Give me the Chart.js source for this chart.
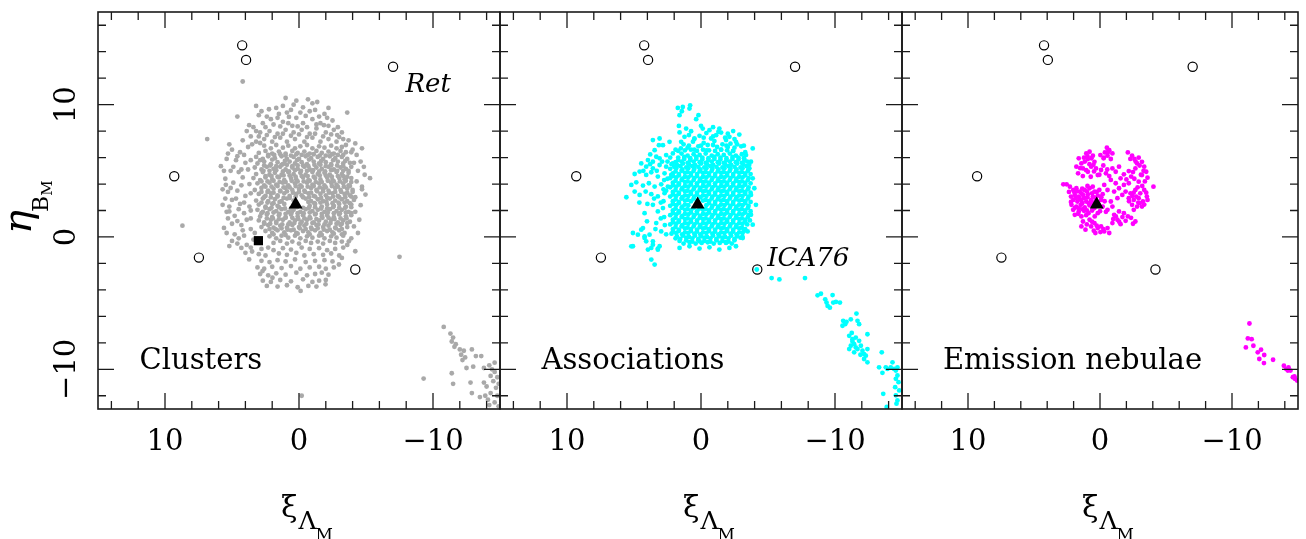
<!DOCTYPE html>
<html><head><meta charset="utf-8">
<script src="https://cdn.jsdelivr.net/npm/chart.js@4.4.1/dist/chart.umd.min.js"></script>
<style>
html,body{margin:0;padding:0;background:#fff;}
#wrap{position:relative;width:1306px;height:539px;overflow:hidden;}
canvas{position:absolute;left:0;top:0;}
</style></head><body>
<div id="wrap">
<canvas id="c1" width="1306" height="539"></canvas>
<canvas id="c2" width="1306" height="539"></canvas>
<canvas id="c3" width="1306" height="539"></canvas>
</div>
<script>
// ---------- axis definitions ----------
const xLimits = [-15, 15];           // axis is reversed (east to the left)
const yLimits = [-13, 17];
const xTickLabels = [10, 0, -10];
const yTickLabels = [10, 0, -10];
const xMinorTicks = [14, 12, 10, 8, 6, 4, 2, 0, -2, -4, -6, -8, -10, -12, -14];
const yMinorTicks = [16, 14, 12, 10, 8, 6, 4, 2, 0, -2, -4, -6, -8, -10, -12];
const panelNames = ['Clusters', 'Associations', 'Emission nebulae'];

// ---------- reference markers (same in all panels) ----------
const refObjects = [4.24,14.48, 3.95,13.38, 9.31,4.59, 7.47,-1.56, -4.2,-2.46, -7.02,12.86];
const centerMark = [0.25, 2.45];
const squareMark = [3.03, -0.28];

// ---------- Clusters (grey) ----------
const clustersCore = [
2.6,6.9, 2.1,6.7, 1.7,6.95, 1.2,6.75, 0.8,6.9, 0.3,6.7, -0.1,6.85, -0.6,6.95, -1.0,6.7, -1.5,6.85, -1.9,6.75, -2.4,6.9, -2.8,6.7, -3.2,6.8,
3.0,6.35, 2.5,6.5, 2.0,6.3, 1.5,6.45, 1.0,6.3, 0.5,6.5, 0.1,6.35, -0.4,6.45, -0.8,6.3, -1.3,6.5, -1.7,6.35, -2.2,6.45, -2.6,6.3, -3.1,6.5, -3.5,6.4,
3.2,6.05, 2.7,5.9, 2.3,6.1, 1.8,5.95, 1.3,6.1, 0.9,5.9, 0.4,6.05, 0.0,5.9, -0.5,6.1, -0.9,5.95, -1.4,6.05, -1.8,5.9, -2.3,6.1, -2.7,5.95, -3.2,6.05, -3.6,5.9,
3.1,5.55, 2.6,5.7, 2.1,5.5, 1.6,5.65, 1.2,5.5, 0.7,5.7, 0.3,5.55, -0.2,5.65, -0.6,5.5, -1.1,5.7, -1.5,5.55, -2.0,5.65, -2.4,5.5, -2.9,5.7, -3.3,5.55, -3.8,5.6,
3.3,5.25, 2.8,5.1, 2.4,5.3, 1.9,5.15, 1.4,5.3, 1.0,5.1, 0.5,5.25, 0.1,5.15, -0.4,5.3, -0.8,5.1, -1.3,5.25, -1.7,5.15, -2.2,5.3, -2.6,5.1, -3.1,5.25, -3.5,5.15, -3.9,5.3,
3.2,4.75, 2.7,4.9, 2.2,4.7, 1.8,4.85, 1.3,4.7, 0.8,4.9, 0.4,4.75, -0.1,4.85, -0.5,4.7, -1.0,4.9, -1.4,4.75, -1.9,4.85, -2.3,4.7, -2.8,4.9, -3.2,4.75, -3.7,4.85,
3.4,4.45, 2.9,4.3, 2.5,4.5, 2.0,4.35, 1.5,4.5, 1.1,4.3, 0.6,4.45, 0.2,4.35, -0.3,4.5, -0.7,4.3, -1.2,4.45, -1.6,4.35, -2.1,4.5, -2.5,4.3, -3.0,4.45, -3.4,4.35, -3.9,4.45,
3.1,4.05, 2.6,3.9, 2.2,4.1, 1.7,3.95, 1.2,4.1, 0.8,3.9, 0.3,4.05, -0.1,3.9, -0.6,4.1, -1.0,3.95, -1.5,4.05, -1.9,3.9, -2.4,4.1, -2.8,3.95, -3.3,4.05, -3.7,3.9,
3.3,3.55, 2.8,3.7, 2.3,3.5, 1.9,3.65, 1.4,3.5, 1.0,3.7, 0.5,3.55, 0.0,3.65, -0.4,3.5, -0.9,3.7, -1.3,3.55, -1.8,3.65, -2.2,3.5, -2.7,3.7, -3.1,3.55, -3.6,3.65, -4.0,3.55,
3.0,3.25, 2.5,3.1, 2.1,3.3, 1.6,3.15, 1.1,3.3, 0.7,3.1, 0.2,3.25, -0.2,3.15, -0.7,3.3, -1.1,3.1, -1.6,3.25, -2.0,3.15, -2.5,3.3, -2.9,3.1, -3.4,3.25, -3.8,3.15,
3.2,2.75, 2.7,2.9, 2.3,2.7, 1.8,2.85, 1.3,2.7, 0.9,2.9, 0.4,2.75, -0.5,2.9, -0.9,2.7, -1.4,2.85, -1.8,2.7, -2.3,2.9, -2.7,2.75, -3.2,2.85, -3.6,2.7, -4.1,2.8,
3.0,2.45, 2.5,2.3, 2.0,2.5, 1.6,2.35, 1.1,2.5, -0.8,2.35, -1.2,2.5, -1.7,2.3, -2.1,2.45, -2.6,2.35, -3.0,2.5, -3.5,2.3, -3.9,2.45,
3.1,2.05, 2.7,1.9, 2.2,2.1, 1.7,1.95, 1.3,2.1, 0.8,1.9, 0.4,2.05, -0.1,1.9, -0.5,2.1, -1.0,1.95, -1.4,2.05, -1.9,1.9, -2.3,2.1, -2.8,1.95, -3.2,2.05, -3.7,1.9,
2.9,1.55, 2.4,1.7, 2.0,1.5, 1.5,1.65, 1.0,1.5, 0.6,1.7, 0.1,1.55, -0.3,1.65, -0.8,1.5, -1.2,1.7, -1.7,1.55, -2.1,1.65, -2.6,1.5, -3.0,1.7, -3.5,1.55, -3.9,1.65,
3.0,1.25, 2.6,1.1, 2.1,1.3, 1.7,1.15, 1.2,1.3, 0.7,1.1, 0.3,1.25, -0.2,1.15, -0.6,1.3, -1.1,1.1, -1.5,1.25, -2.0,1.15, -2.4,1.3, -2.9,1.1, -3.3,1.25, -3.8,1.15,
2.8,0.75, 2.3,0.9, 1.9,0.7, 1.4,0.85, 0.9,0.7, 0.5,0.9, 0.0,0.75, -0.4,0.85, -0.9,0.7, -1.3,0.9, -1.8,0.75, -2.2,0.85, -2.7,0.7, -3.1,0.9, -3.6,0.75,
2.5,0.45, 2.0,0.3, 1.6,0.5, 1.1,0.35, 0.6,0.5, 0.2,0.3, -0.3,0.45, -0.7,0.35, -1.2,0.5, -1.6,0.3, -2.1,0.45, -2.5,0.35, -3.0,0.5, -3.4,0.3,
2.2,0.05, 1.7,-0.1, 1.3,0.1, 0.8,-0.05, 0.3,0.1, -0.1,-0.1, -0.6,0.05, -1.0,-0.05, -1.5,0.1, -1.9,-0.1, -2.4,0.05, -2.8,-0.05, -3.3,0.1,
1.9,-0.45, 1.4,-0.3, 0.9,-0.5, 0.5,-0.35, 0.0,-0.5, -0.5,-0.3, -0.9,-0.45, -1.4,-0.35, -1.8,-0.5, -2.3,-0.3, -2.7,-0.45, -3.2,-0.35
];
const clustersInner = [
2.3,6.2, 1.4,6.25, 0.6,6.15, -0.2,6.2, -1.1,6.25, -2.0,6.15, -2.9,6.2,
2.6,5.4, 1.7,5.35, 0.9,5.45, 0.1,5.4, -0.7,5.35, -1.6,5.45, -2.4,5.4, -3.3,5.35,
2.2,5.0, 1.2,4.95, 0.3,5.05, -0.6,5.0, -1.5,4.95, -2.4,5.05, -3.3,5.0,
2.5,4.6, 1.6,4.55, 0.7,4.65, -0.2,4.6, -1.1,4.55, -2.0,4.65, -2.9,4.6, -3.6,4.55,
2.8,4.2, 1.9,4.25, 1.0,4.15, 0.1,4.2, -0.8,4.25, -1.7,4.15, -2.6,4.2, -3.5,4.25,
2.5,3.8, 1.6,3.85, 0.7,3.75, -0.2,3.8, -1.1,3.85, -2.0,3.75, -2.9,3.8, -3.8,3.85,
2.8,3.4, 1.9,3.35, 0.9,3.45, 0.0,3.4, -0.9,3.35, -1.8,3.45, -2.7,3.4, -3.6,3.35,
2.6,3.0, 1.6,3.05, 0.7,2.95, -0.3,3.0, -1.2,3.05, -2.1,2.95, -3.0,3.0, -3.9,3.05,
2.8,2.6, 1.9,2.55, -0.7,2.65, -1.6,2.6, -2.5,2.55, -3.4,2.6,
2.5,2.2, 1.5,2.25, 0.6,2.15, -0.3,2.2, -1.2,2.25, -2.1,2.15, -3.0,2.2, -3.9,2.25,
2.8,1.8, 1.9,1.85, 1.0,1.75, 0.1,1.8, -0.8,1.85, -1.7,1.75, -2.6,1.8, -3.5,1.85,
2.4,1.4, 1.5,1.35, 0.5,1.45, -0.4,1.4, -1.3,1.35, -2.2,1.45, -3.1,1.4,
2.6,1.0, 1.7,1.05, 0.8,0.95, -0.1,1.0, -1.0,1.05, -1.9,0.95, -2.8,1.0, -3.6,1.05,
2.2,0.6, 1.3,0.65, 0.4,0.55, -0.5,0.6, -1.4,0.65, -2.3,0.55, -3.2,0.6
];
const clustersDense = [
1.85,6.2, 1.0,6.15, 0.2,6.25, -0.65,6.2, -1.55,6.15, -2.45,6.25, -3.3,6.2,
2.9,5.8, 2.0,5.85, 1.05,5.75, 0.15,5.8, -0.75,5.85, -1.65,5.75, -2.55,5.8, -3.45,5.75,
2.15,5.4, 1.3,5.45, 0.5,5.35, -0.3,5.4, -1.15,5.45, -2.0,5.35, -2.85,5.4,
2.65,5.0, 1.7,5.05, 0.75,4.95, -0.15,5.0, -1.05,5.05, -1.95,4.95, -2.85,5.0, -3.7,5.0,
2.05,4.6, 1.15,4.65, 0.25,4.55, -0.65,4.6, -1.55,4.65, -2.45,4.55, -3.3,4.6,
2.35,4.2, 1.45,4.15, 0.55,4.25, -0.35,4.2, -1.25,4.15, -2.15,4.25, -3.05,4.2, -3.9,4.15,
2.05,3.8, 1.15,3.75, 0.25,3.85, -0.65,3.8, -1.55,3.75, -2.45,3.85, -3.35,3.8,
2.35,3.4, 1.4,3.45, 0.45,3.35, -0.45,3.4, -1.35,3.45, -2.25,3.35, -3.15,3.4, -4.0,3.4,
2.1,3.0, 1.15,2.95, 0.25,3.05, -0.75,3.0, -1.65,2.95, -2.55,3.05, -3.45,3.0,
2.35,2.6, 1.45,2.65, -1.15,2.55, -2.05,2.65, -2.95,2.6, -3.8,2.55,
2.05,2.2, 1.05,2.15, 0.15,2.25, -0.75,2.2, -1.65,2.15, -2.55,2.25, -3.45,2.2,
2.35,1.8, 1.45,1.75, 0.55,1.85, -0.35,1.8, -1.25,1.75, -2.15,1.85, -3.05,1.8, -3.9,1.8,
1.95,1.4, 1.0,1.45, 0.05,1.35, -0.85,1.4, -1.75,1.45, -2.65,1.35, -3.55,1.4,
2.15,1.0, 1.25,0.95, 0.35,1.05, -0.55,1.0, -1.45,0.95, -2.35,1.05, -3.2,1.0,
1.75,0.6, 0.85,0.55, -0.05,0.65, -0.95,0.6, -1.85,0.55, -2.75,0.65,
1.9,0.2, 1.0,0.15, 0.1,0.25, -0.8,0.2, -1.7,0.15, -2.6,0.25, -3.2,0.2
];
const clustersUpper = [
3.0,7.6, 2.4,7.7, 1.8,7.55, 1.2,7.8, 0.6,7.65, 0.0,7.75, -0.6,7.55, -1.2,7.8, -1.8,7.6, -2.4,7.75, -3.0,7.55,
3.2,8.0, 2.5,8.3, 1.4,8.35, 0.8,8.6, 0.1,8.35, -0.6,8.3, -1.3,8.5, -2.2,8.4, -2.9,8.3,
2.1,8.9, 1.6,9.0, 0.9,9.4, 0.2,9.0, -0.8,9.5, -1.5,9.1, -2.1,9.0, 2.8,9.5, 1.2,9.9, -0.3,9.8, 0.6,9.6, -1.0,10.1,
3.5,7.0, 2.9,7.1, -3.7,7.3, -3.2,7.9, -3.9,6.4
];
const clustersEast = [
5.3,6.3, 4.6,6.1, 4.1,6.2, 5.6,5.0, 4.9,5.3, 4.3,5.1, 3.6,5.8, 5.7,3.6, 5.1,3.7, 4.3,3.9, 3.6,3.3, 5.5,2.9, 4.7,2.9, 4.1,2.6, 3.6,2.0,
5.2,2.3, 4.5,2.1, 3.9,1.3, 5.3,1.4, 4.6,1.2, 4.2,0.5, 5.4,0.3, 4.5,-0.1, 3.6,-0.8, 5.0,-0.3, 4.0,-1.2, 3.5,-1.1
];
const clustersHalo = [
1.0,10.5, -0.67,10.4, -1.36,10.2, 3.2,9.9, 2.24,9.65, 1.7,9.75, -2.2,9.75, -3.6,9.4, 4.6,9.1, 3.0,9.2, 0.75,9.07, -0.5,9.15, -2.5,8.8, -2.85,7.7, -1.86,8.45, 3.72,8.45, 5.2,7.0,
3.2,7.2, 2.6,7.4, 2.0,7.2, 1.4,7.5, 0.9,7.2, 0.3,7.4, -0.4,7.2, -1.0,7.5, -1.6,7.2, -2.2,7.4, -2.8,7.2, -3.3,7.4, 2.9,7.9, 2.2,8.0, 1.6,7.8, 1.0,8.1, 0.4,7.9, -0.2,8.1, -0.8,7.8, -1.3,8.2, -2.0,7.9, -2.6,8.1,
3.4,8.3, 2.7,8.6, 1.9,8.5, 1.2,8.7, 0.5,8.4, -0.3,8.6, -1.0,8.9, -1.6,8.6, 2.4,9.1, 1.5,9.3, -0.1,9.4, -1.2,9.6, 0.4,10.0, -1.9,9.3, 3.9,8.0, 0.2,10.3,
5.83,5.35, 5.46,3.94, 5.7,2.43, 5.2,1.93, 5.6,0.68, 5.2,-0.69, 4.3,-0.83, 3.72,-1.7,
4.2,7.3, 3.6,7.6, 5.0,6.6, 4.4,6.4, 3.8,6.8, 5.4,5.9, 4.7,5.8, 4.0,5.6, 5.1,5.0, 4.5,4.9, 3.8,5.1, 5.5,4.4, 4.9,4.1, 4.2,4.5, 3.7,4.0, 5.3,3.4, 4.6,3.5, 4.0,3.1, 5.0,2.8, 4.4,2.5, 3.7,2.3, 5.4,1.9, 4.8,1.6, 4.1,1.8, 3.6,1.4, 5.0,1.0, 4.3,0.9, 3.6,0.6, 4.8,0.2, 4.1,0.1, 3.4,-0.2, 4.6,-0.5, 3.9,-0.6, 3.3,0.3,
-3.5,6.95, -4.2,7.07, -4.7,6.7, -4.84,5.3, -5.3,4.44, -4.7,3.8, -4.96,3.2, -3.72,-0.33, -4.2,-1.08, -3.2,-1.58, -2.98,-2.08,
-4.3,6.2, -4.6,5.7, -4.1,5.6, -4.4,5.0, -4.9,4.7, -4.3,4.2, -4.7,3.6, -4.2,3.0, -4.6,2.4, -4.2,1.9, -4.5,1.3, -4.1,0.8, -4.4,0.3, -3.9,-0.1, -3.6,-0.6, -4.0,6.6
];
const clustersSouth = [
2.8,-0.9, 2.3,-0.8, 1.9,-1.0, 1.2,-0.85, 0.6,-0.95, -0.2,-0.8, -0.8,-0.9, -1.5,-0.85, -2.1,-1.0, -2.7,-0.9, -3.3,-0.8,
3.0,-1.3, 2.5,-1.4, 1.5,-1.25, 0.9,-1.35, 0.2,-1.2, -0.4,-1.4, -1.1,-1.3, -1.8,-1.35, -2.4,-1.25, -3.0,-1.4,
2.8,-1.8, 2.2,-1.9, 1.6,-1.75, 1.0,-1.85, 0.3,-1.7, -0.5,-1.9, -1.2,-1.8, -1.9,-1.75, -2.5,-1.85,
3.1,-2.3, 2.6,-2.4, 2.0,-2.25, 1.3,-2.35, 0.6,-2.2, -0.1,-2.4, -0.8,-2.3, -1.5,-2.25, -2.0,-2.4, -2.6,-2.3,
2.9,-2.8, 2.3,-2.9, 1.7,-2.75, 1.0,-2.85, 0.2,-2.7, -0.6,-2.9, -1.2,-2.8, -1.7,-2.7, -2.2,-2.85,
2.7,-3.3, 2.1,-3.4, 1.4,-3.25, 0.6,-3.35, -0.3,-3.2, -1.0,-3.4, -1.5,-3.3, -2.0,-3.25,
2.4,-3.7, 1.6,-3.75, 0.9,-3.65, 0.1,-3.8, -0.7,-3.7, -1.3,-3.75,
-1.98,-3.58, -0.12,-4.08, 1.98,-3.08, 2.72,-2.58
];
const clustersTail = [
-10.8,-6.8, -11.3,-7.3, -11.5,-7.6, -11.4,-7.9, -11.7,-8.1, -11.6,-8.3, -12.0,-8.5, -12.3,-8.6, -12.1,-8.9, -12.4,-9.1, -12.2,-9.3, -12.9,-8.5, -13.2,-9.0, -13.6,-9.0, -13.0,-9.8, -12.5,-9.9, -11.4,-10.3,
-13.8,-9.9, -14.2,-9.7, -14.4,-10.0, -14.6,-10.2, -14.3,-10.5, -14.8,-10.6, -14.5,-10.9, -14.9,-11.1, -13.8,-11.0, -14.7,-11.4, -14.3,-11.8, -14.8,-12.0, -13.5,-12.1, -14.1,-12.3, -14.6,-12.5, -14.9,-12.8, -14.2,-12.7,
-9.3,-10.7, -12.8,-11.0, -12.9,-11.8, -13.9,-12.0, -14.0,-11.3, -14.6,-9.5, -11.5,-11.1
];
const clustersOutliers = [6.85,7.4, 8.7,0.85, 4.2,11.75, -7.5,-1.5, -0.2,-12.0];

// ---------- Associations (cyan) ----------
const assocCore = [
1.45,6.3, 1.0,6.15, 0.55,6.25, 0.1,6.2, -0.35,6.3, -0.8,6.15, -1.25,6.25, -1.7,6.2, -2.15,6.3, -2.6,6.15, -3.05,6.25,
1.7,5.8, 1.25,5.9, 0.8,5.8, 0.35,5.9, -0.1,5.85, -0.55,5.8, -1.0,5.9, -1.45,5.85, -1.9,5.8, -2.35,5.9, -2.8,5.85, -3.25,5.8,
2.2,5.5, 1.8,5.45, 1.35,5.55, 0.9,5.5, 0.45,5.45, 0.0,5.55, -0.45,5.5, -0.9,5.45, -1.35,5.55, -1.8,5.5, -2.25,5.45, -2.7,5.55, -3.15,5.5, -3.6,5.45,
2.3,5.15, 1.85,5.2, 1.4,5.1, 0.95,5.2, 0.5,5.15, 0.05,5.1, -0.4,5.2, -0.85,5.15, -1.3,5.1, -1.75,5.2, -2.2,5.15, -2.65,5.1, -3.1,5.2, -3.55,5.15,
2.1,4.8, 1.65,4.75, 1.2,4.85, 0.75,4.8, 0.3,4.75, -0.15,4.85, -0.6,4.8, -1.05,4.75, -1.5,4.85, -1.95,4.8, -2.4,4.75, -2.85,4.85, -3.3,4.8, -3.7,4.75,
2.3,4.45, 1.85,4.5, 1.4,4.4, 0.95,4.5, 0.5,4.45, 0.05,4.4, -0.4,4.5, -0.85,4.45, -1.3,4.4, -1.75,4.5, -2.2,4.45, -2.65,4.4, -3.1,4.5, -3.55,4.45,
2.1,4.1, 1.65,4.05, 1.2,4.15, 0.75,4.1, 0.3,4.05, -0.15,4.15, -0.6,4.1, -1.05,4.05, -1.5,4.15, -1.95,4.1, -2.4,4.05, -2.85,4.15, -3.3,4.1, -3.7,4.05,
2.3,3.75, 1.85,3.8, 1.4,3.7, 0.95,3.8, 0.5,3.75, 0.05,3.7, -0.4,3.8, -0.85,3.75, -1.3,3.7, -1.75,3.8, -2.2,3.75, -2.65,3.7, -3.1,3.8, -3.55,3.75,
2.1,3.4, 1.65,3.35, 1.2,3.45, 0.75,3.4, 0.3,3.35, -0.15,3.45, -0.6,3.4, -1.05,3.35, -1.5,3.45, -1.95,3.4, -2.4,3.35, -2.85,3.45, -3.3,3.4, -3.7,3.35,
2.3,3.05, 1.85,3.1, 1.4,3.0, 0.95,3.1, 0.5,3.05, 0.05,3.0, -0.4,3.1, -0.85,3.05, -1.3,3.0, -1.75,3.1, -2.2,3.05, -2.65,3.0, -3.1,3.1, -3.55,3.05,
2.1,2.7, 1.65,2.65, 1.2,2.75, 0.75,2.7, 0.3,2.65, -0.15,2.75, -0.6,2.7, -1.05,2.65, -1.5,2.75, -1.95,2.7, -2.4,2.65, -2.85,2.75, -3.3,2.7, -3.7,2.65,
2.3,2.35, 1.85,2.4, 1.4,2.3, 0.95,2.4, -0.4,2.4, -0.85,2.35, -1.3,2.3, -1.75,2.4, -2.2,2.35, -2.65,2.3, -3.1,2.4, -3.55,2.35,
2.1,2.0, 1.65,1.95, 1.2,2.05, 0.75,2.0, 0.3,1.95, -0.15,2.05, -0.6,2.0, -1.05,1.95, -1.5,2.05, -1.95,2.0, -2.4,1.95, -2.85,2.05, -3.3,2.0, -3.7,1.95,
2.3,1.65, 1.85,1.7, 1.4,1.6, 0.95,1.7, 0.5,1.65, 0.05,1.6, -0.4,1.7, -0.85,1.65, -1.3,1.6, -1.75,1.7, -2.2,1.65, -2.65,1.6, -3.1,1.7, -3.55,1.65,
2.1,1.3, 1.65,1.25, 1.2,1.35, 0.75,1.3, 0.3,1.25, -0.15,1.35, -0.6,1.3, -1.05,1.25, -1.5,1.35, -1.95,1.3, -2.4,1.25, -2.85,1.35, -3.3,1.3, -3.65,1.25,
2.3,0.95, 1.85,1.0, 1.4,0.9, 0.95,1.0, 0.5,0.95, 0.05,0.9, -0.4,1.0, -0.85,0.95, -1.3,0.9, -1.75,1.0, -2.2,0.95, -2.65,0.9, -3.1,1.0, -3.45,0.95,
2.1,0.6, 1.65,0.55, 1.2,0.65, 0.75,0.6, 0.3,0.55, -0.15,0.65, -0.6,0.6, -1.05,0.55, -1.5,0.65, -1.95,0.6, -2.4,0.55, -2.85,0.65, -3.3,0.6,
2.2,0.25, 1.85,0.3, 1.4,0.2, 0.95,0.3, 0.5,0.25, 0.05,0.2, -0.4,0.3, -0.85,0.25, -1.3,0.2, -1.75,0.3, -2.2,0.25, -2.65,0.2, -3.1,0.3,
1.9,-0.1, 1.55,-0.15, 1.1,-0.05, 0.65,-0.1, 0.2,-0.15, -0.25,-0.05, -0.7,-0.1, -1.15,-0.15, -1.6,-0.05, -2.05,-0.1, -2.5,-0.15, -2.95,-0.05,
1.3,-0.5, 0.85,-0.4, 0.4,-0.5, -0.05,-0.45, -0.5,-0.4, -0.95,-0.5, -1.4,-0.45, -1.85,-0.4, -2.3,-0.5
];
const assocInner = [
1.2,6.55, 0.75,6.6, 0.3,6.5, -0.15,6.6, -0.6,6.55, -1.05,6.5, -1.5,6.6, -1.95,6.55, -2.4,6.5,
1.7,6.0, 1.25,6.05, 0.8,5.95, 0.35,6.05, -0.1,6.0, -0.55,5.95, -1.0,6.05, -1.45,6.0, -1.9,5.95, -2.35,6.05, -2.8,6.0, -3.2,5.95,
1.9,5.65, 1.45,5.7, 1.0,5.6, 0.55,5.7, 0.1,5.65, -0.35,5.6, -0.8,5.7, -1.25,5.65, -1.7,5.6, -2.15,5.7, -2.6,5.65, -3.05,5.6, -3.45,5.7,
2.0,5.3, 1.55,5.35, 1.1,5.25, 0.65,5.35, 0.2,5.3, -0.25,5.25, -0.7,5.35, -1.15,5.3, -1.6,5.25, -2.05,5.35, -2.5,5.3, -2.95,5.25, -3.4,5.35,
1.9,4.95, 1.45,5.0, 1.0,4.9, 0.55,5.0, 0.1,4.95, -0.35,4.9, -0.8,5.0, -1.25,4.95, -1.7,4.9, -2.15,5.0, -2.6,4.95, -3.05,4.9, -3.5,5.0,
2.1,4.6, 1.65,4.65, 1.2,4.55, 0.75,4.65, 0.3,4.6, -0.15,4.55, -0.6,4.65, -1.05,4.6, -1.5,4.55, -1.95,4.65, -2.4,4.6, -2.85,4.55, -3.3,4.65,
1.9,4.25, 1.45,4.3, 1.0,4.2, 0.55,4.3, 0.1,4.25, -0.35,4.2, -0.8,4.3, -1.25,4.25, -1.7,4.2, -2.15,4.3, -2.6,4.25, -3.05,4.2, -3.5,4.3,
2.1,3.9, 1.65,3.95, 1.2,3.85, 0.75,3.95, 0.3,3.9, -0.15,3.85, -0.6,3.95, -1.05,3.9, -1.5,3.85, -1.95,3.95, -2.4,3.9, -2.85,3.85, -3.3,3.95,
1.9,3.55, 1.45,3.6, 1.0,3.5, 0.55,3.6, 0.1,3.55, -0.35,3.5, -0.8,3.6, -1.25,3.55, -1.7,3.5, -2.15,3.6, -2.6,3.55, -3.05,3.5, -3.5,3.6,
2.1,3.2, 1.65,3.25, 1.2,3.15, 0.75,3.25, 0.3,3.2, -0.15,3.15, -0.6,3.25, -1.05,3.2, -1.5,3.15, -1.95,3.25, -2.4,3.2, -2.85,3.15, -3.3,3.25,
1.9,2.85, 1.45,2.9, 1.0,2.8, 0.55,2.9, -0.35,2.8, -0.8,2.9, -1.25,2.85, -1.7,2.8, -2.15,2.9, -2.6,2.85, -3.05,2.8, -3.5,2.9,
2.1,2.5, 1.65,2.55, 1.2,2.45, -0.6,2.55, -1.05,2.5, -1.5,2.45, -1.95,2.55, -2.4,2.5, -2.85,2.45, -3.3,2.55,
1.9,2.15, 1.45,2.2, 1.0,2.1, 0.55,2.2, 0.1,2.15, -0.35,2.1, -0.8,2.2, -1.25,2.15, -1.7,2.1, -2.15,2.2, -2.6,2.15, -3.05,2.1, -3.5,2.2,
2.1,1.8, 1.65,1.85, 1.2,1.75, 0.75,1.85, 0.3,1.8, -0.15,1.75, -0.6,1.85, -1.05,1.8, -1.5,1.75, -1.95,1.85, -2.4,1.8, -2.85,1.75, -3.3,1.85,
1.9,1.45, 1.45,1.5, 1.0,1.4, 0.55,1.5, 0.1,1.45, -0.35,1.4, -0.8,1.5, -1.25,1.45, -1.7,1.4, -2.15,1.5, -2.6,1.45, -3.05,1.4, -3.5,1.5,
2.1,1.1, 1.65,1.15, 1.2,1.05, 0.75,1.15, 0.3,1.1, -0.15,1.05, -0.6,1.15, -1.05,1.1, -1.5,1.05, -1.95,1.15, -2.4,1.1, -2.85,1.05, -3.3,1.15,
1.9,0.75, 1.45,0.8, 1.0,0.7, 0.55,0.8, 0.1,0.75, -0.35,0.7, -0.8,0.8, -1.25,0.75, -1.7,0.7, -2.15,0.8, -2.6,0.75, -3.05,0.7,
2.1,0.4, 1.65,0.45, 1.2,0.35, 0.75,0.45, 0.3,0.4, -0.15,0.35, -0.6,0.45, -1.05,0.4, -1.5,0.35, -1.95,0.45, -2.4,0.4, -2.85,0.35, -3.2,0.45,
1.8,0.05, 1.35,0.1, 0.9,0.0, 0.45,0.1, 0.0,0.05, -0.45,0.0, -0.9,0.1, -1.35,0.05, -1.8,0.0, -2.25,0.1, -2.7,0.05, -3.1,0.0,
1.6,-0.3, 1.1,-0.25, 0.65,-0.35, 0.2,-0.25, -0.25,-0.3, -0.7,-0.35, -1.15,-0.25, -1.6,-0.3, -2.05,-0.35, -2.5,-0.25
];
const assocUpper = [
1.3,7.0, 0.5,7.4, -0.2,7.5, -0.9,7.6, -1.8,7.5, -2.5,7.4, 0.9,7.7, -0.4,7.85, -1.3,7.95, -2.0,7.8, 1.6,7.9, 0.0,8.4, -0.9,8.3, -2.4,8.0,
1.0,6.75, 0.0,6.9, -0.9,6.95, -2.0,6.8, -2.7,7.0, -3.2,6.9, 1.7,6.5, 2.3,6.0, 2.5,5.7,
4.3,5.0, 3.8,5.5, 3.3,5.0, 2.9,5.7, 2.5,4.4, 2.6,3.5, 3.0,2.6, 3.5,2.9, 4.0,2.5, 4.6,2.6, 3.0,1.4, 2.6,0.2, 3.4,0.6
];
const assocHalo = [
1.73,9.75, 1.36,9.82, 0.86,9.7, 1.6,9.2, 1.43,9.5, 0.81,9.95, 0.36,8.9, 0.19,9.2, 1.65,8.39, 1.11,8.19, 0.74,7.99, -0.13,8.19, -0.63,8.07, -1.37,8.19, -1.5,7.89, -2.86,7.74, -2.12,7.57, -1.13,7.69, 0.11,7.64, 1.23,7.57, 0.49,7.44, -0.75,7.44, -1.87,7.32, -2.61,7.19, 1.48,7.19,
0.9,6.9, 0.2,6.85, -0.5,6.95, -1.2,6.8, -1.9,6.9, -2.5,6.75, -3.0,6.85, 1.5,6.7, 0.5,6.6, -0.4,6.55, -1.5,6.6, -2.4,6.5,
0.6,7.2, -0.2,7.1, -1.0,7.25, -1.6,7.0, -2.2,7.05, 1.9,6.6, -3.3,6.4,
3.59,7.32, 3.09,7.44, 2.84,6.94, 3.14,6.94, 2.35,7.19, 3.46,6.56, 3.79,6.24, 3.34,6.06, 3.96,5.81, 3.59,5.69, 3.09,5.94, 2.6,6.19, 2.1,6.31,
4.46,5.56, 4.09,5.31, 3.59,5.19, 3.09,5.44, 2.6,5.31, 2.1,5.56, 4.95,4.76, 4.58,4.94, 4.09,4.69, 3.71,4.89, 3.22,4.56, 2.72,4.81, 2.22,4.69,
5.2,3.93, 4.83,4.13, 4.33,3.88, 3.89,4.06, 3.46,3.81, 2.97,3.98, 2.47,3.81, 5.57,3.0, 4.95,3.43, 4.58,3.18, 4.13,3.43, 3.71,3.23, 3.22,3.06, 2.72,3.31,
4.21,1.8, 4.03,1.18, 4.33,0.67, 3.84,0.17, 3.59,2.43, 3.22,1.93, 2.84,2.18, 3.34,1.05, 2.97,0.42, 3.59,-0.33, 3.09,-0.7, 5.08,-0.7, 4.21,-0.08, 3.71,-0.83, 3.22,-0.88, 4.71,0.17, 3.96,-0.95,
2.8,2.7, 2.75,1.5, 2.7,0.9, 2.8,3.6, 2.75,4.3,
-3.86,6.69, -4.1,2.43, -3.73,3.18, -3.61,5.19, -3.86,4.43, -3.98,3.68, -3.73,1.68, -3.86,0.93, -3.48,0.42, -3.11,-0.08, -3.36,6.19, -3.73,5.69,
1.6,-0.83, 0.86,-0.7, 0.11,-0.88, -0.63,-0.78, -1.37,-0.95, -2.12,-0.83, -2.61,-0.7, 0.11,-0.33, -1.87,-0.45,
5.2,-0.71, 4.46,0.55, 4.21,0.05, 3.59,-0.58, 3.22,-0.96, 3.71,-1.71, 3.46,-2.09, 4.09,-0.33, 5.08,0.3
];
const assocTail = [
-4.16,-2.46, -5.27,-3.11, -5.85,-3.21, -7.76,-3.11,
-8.7,-4.41, -8.95,-4.29, -9.27,-4.71, -9.37,-4.96, -9.45,-5.21, -9.62,-5.34, -9.82,-4.39, -9.87,-4.96, -10.07,-4.91, -10.37,-4.96,
-10.61,-6.34, -10.76,-6.59, -10.86,-6.41, -10.56,-6.71, -11.18,-6.22, -11.6,-5.79, -11.68,-6.34, -11.8,-6.59,
-11.06,-7.47, -11.3,-7.72, -11.43,-8.1, -11.18,-8.22, -11.55,-8.35, -11.68,-8.47, -11.93,-8.22, -11.8,-7.85, -12.05,-8.6, -12.17,-8.85, -12.3,-8.97, -12.42,-8.47, -12.17,-9.22, -12.42,-9.47, -11.06,-8.47, -11.43,-8.72, -12.42,-7.35,
-11.3,-7.9, -11.55,-7.6, -11.9,-8.9, -11.25,-7.25,
-13.49,-8.72, -13.29,-9.85, -13.54,-10.27, -13.79,-9.85, -13.91,-9.97, -14.16,-9.85, -14.29,-9.47, -14.41,-9.97, -14.54,-10.1, -14.66,-9.85,
-14.54,-10.72, -14.66,-10.47, -14.74,-10.97, -14.49,-11.35, -14.79,-11.6, -13.6,-11.85, -14.54,-11.97, -14.66,-12.35, -14.59,-12.6, -13.86,-12.85
];

// ---------- Emission nebulae (magenta) ----------
const nebulaeCore = [
-0.52,6.74, -0.7,6.56, -0.37,6.39, -0.57,6.14, -0.27,5.94, -0.82,5.89, -0.03,6.19, -0.94,6.31,
1.04,6.31, 0.79,6.44, 0.54,6.14, 0.92,5.89, 1.21,5.99, 0.42,5.68, 1.41,5.56, 1.61,5.94, 0.67,5.31, 0.3,5.18, -0.08,5.06, 1.29,5.18, 1.79,5.31, 1.66,4.81, 0.92,4.93, 0.17,4.68, -0.45,4.81, -0.94,5.18, -1.19,4.93, -1.44,5.31,
-2.11,6.39, -2.43,6.14, -2.61,5.89, -2.93,5.99, -3.18,5.68, -2.81,5.56, -3.35,5.31, -3.5,4.93, -3.18,4.68, -3.6,4.48, -2.68,5.18, -2.18,4.98, -1.81,4.73, -2.36,4.56, -2.93,4.18, -4.05,3.8,
-1.56,4.43, -1.19,4.06, -0.82,4.31, -0.32,3.93, -0.57,3.55, -1.07,3.43, -1.44,3.68, -1.81,3.93, -2.18,4.06, -1.69,3.18, -1.32,2.93, -0.82,2.68, -0.94,2.3, -0.57,2.05,
2.78,3.98, 2.53,3.98, 2.28,3.8,
2.03,3.55, 1.79,3.68, 1.54,3.43, 1.16,3.55, 0.79,3.68, 0.42,3.43, 0.05,3.55, 1.91,3.18, 1.61,3.05, 1.29,3.18, 0.92,3.23, 0.54,3.05, 0.17,3.13, -0.2,3.23,
2.03,2.8, 1.71,2.68, 1.41,2.8, 1.04,2.68, 0.67,2.8, 0.3,2.68, -0.08,2.8, 2.16,2.43, 1.79,2.3, 1.46,2.43, 1.16,2.23, 0.79,2.38, 0.42,2.18, -0.2,2.3,
2.03,2.05, 1.61,1.93, 1.21,1.98, 0.87,1.8, 1.91,1.67, 1.41,1.55, 0.17,1.8,
1.85,2.95, 1.35,2.55, 0.95,3.0, 0.6,2.55, 1.6,2.15, 1.0,2.0, 1.75,3.45, 0.35,2.95,
-1.94,3.43, -2.31,3.3, -2.68,3.55, -3.05,3.3, -3.35,3.55, -2.18,2.93, -2.56,2.8, -2.93,2.93, -3.25,2.68, -2.43,2.43, -2.81,2.3, -3.18,2.3, -3.55,3.05, -2.56,2.05,
-2.75,3.05, -3.0,2.55, -2.45,3.1,
-1.07,1.67, -1.44,1.93, -1.81,1.8, -2.11,1.55, -1.94,1.22, -1.32,1.3, -0.94,1.05, -1.56,0.97, -2.68,1.17, -0.57,0.67,
1.29,1.17, 0.79,1.3, 0.42,1.05, 0.67,0.8, 0.17,0.67, -0.08,0.8, -0.32,0.42, -0.03,0.37, 1.41,0.8, 0.47,0.47, -0.7,0.3
];
const nebulaeExtra = [
1.95,3.4, 1.4,3.3, 1.0,3.45, 0.6,3.3, 0.25,3.4, -0.1,3.0, 1.55,2.9, 1.2,2.95, 0.85,2.55, 0.45,2.6, 0.1,2.45, 1.9,2.2, 1.3,2.1, 0.6,2.0, 2.2,2.65, 1.65,1.75, 1.05,1.65, 0.4,1.55, -0.35,2.7, -0.45,1.9, 0.0,1.95, 2.35,3.4, 2.2,3.05, 1.35,3.65, 0.55,3.8, 0.95,3.85,
0.95,6.1, 0.65,5.95, 1.15,5.7, 0.8,5.5, 0.5,5.45, 1.5,5.2, 1.05,5.05, 0.45,4.95, 0.05,4.7, 1.3,4.6, 0.7,4.55, -0.25,5.4, -0.55,5.1, -0.7,4.6, -0.3,6.0, -0.6,6.4,
-2.3,5.9, -2.7,5.7, -3.0,5.4, -3.3,5.0, -2.5,4.9, -3.1,4.7, -3.4,4.2, -2.0,4.35, -2.6,4.4, -2.85,3.75, -3.2,3.85, -3.5,3.35, -2.55,3.35, -2.9,2.6, -3.35,2.45, -2.2,2.7, -3.6,2.8,
-1.2,1.55, -1.7,1.5, -1.45,1.15, -1.0,1.35, -2.35,1.45, -2.5,1.0, 1.0,0.95, 0.6,1.15, 0.25,0.85, -0.25,0.6, 1.1,0.55, 0.35,0.3
];
const nebulaeTail = [
-11.32,-6.54, -11.2,-7.67, -11.49,-7.72, -11.05,-8.35, -11.62,-8.22, -11.95,-8.72, -12.2,-8.52, -12.07,-9.22, -12.44,-8.92, -12.42,-9.53, -13.11,-9.28,
-13.93,-9.73, -14.11,-9.98, -14.28,-9.85, -14.43,-10.1, -14.61,-10.6, -14.78,-10.73, -14.93,-10.85, -14.73,-10.53, -14.23,-10.1
];

// ---------- build ----------
function pts(...arrs) {
  const out = [];
  arrs.forEach(a => { for (let i = 0; i < a.length; i += 2) out.push({x: a[i], y: a[i + 1]}); });
  return out;
}
const panelData = [
  {name: panelNames[0], color: '#a9a9a9', points: pts(clustersCore, clustersInner, clustersDense, clustersUpper, clustersEast, clustersHalo, clustersSouth, clustersTail, clustersOutliers),
   square: true, yLabels: true, notes: [{text: 'Ret', x: -7.95, y: 10.95}], left: 98, right: 500},
  {name: panelNames[1], color: '#00ffff', points: pts(assocCore, assocInner, assocUpper, assocHalo, assocTail),
   square: false, yLabels: false, notes: [{text: 'ICA76', x: -4.95, y: -2.18}], left: 500, right: 902},
  {name: panelNames[2], color: '#ff00ff', points: pts(nebulaeCore, nebulaeExtra, nebulaeTail),
   square: false, yLabels: false, notes: [], left: 902, right: 1304}
];

const fmt = v => (v < 0 ? '\u2212' + Math.abs(v) : String(v));
const FONT = '"DejaVu Serif", "Liberation Serif", serif';

const decoPlugin = {
  id: 'deco',
  afterDatasetsDraw(chart, args, o) {
    const {ctx, chartArea: a, scales: {x, y}} = chart;
    ctx.save();
    ctx.strokeStyle = '#1a1a1a';
    ctx.lineWidth = 1.6;
    ctx.strokeRect(a.left, a.top, a.right - a.left, a.bottom - a.top);
    ctx.lineWidth = 1.3;
    ctx.beginPath();
    xMinorTicks.forEach(v => {
      const p = x.getPixelForValue(v);
      const len = xTickLabels.includes(v) ? 16 : 8;
      ctx.moveTo(p, a.bottom); ctx.lineTo(p, a.bottom - len);
      ctx.moveTo(p, a.top); ctx.lineTo(p, a.top + len);
    });
    yMinorTicks.forEach(v => {
      const p = y.getPixelForValue(v);
      const len = yTickLabels.includes(v) ? 16 : 8;
      ctx.moveTo(a.left, p); ctx.lineTo(a.left + len, p);
      ctx.moveTo(a.right, p); ctx.lineTo(a.right - len, p);
    });
    ctx.stroke();
    ctx.fillStyle = '#000';
    ctx.font = '29px ' + FONT;
    ctx.textAlign = 'center';
    ctx.textBaseline = 'alphabetic';
    xTickLabels.forEach(v => ctx.fillText(fmt(v), x.getPixelForValue(v), 450));
    if (o.yLabels) {
      yTickLabels.forEach(v => {
        ctx.save();
        ctx.translate(75, y.getPixelForValue(v));
        ctx.rotate(-Math.PI / 2);
        ctx.fillText(fmt(v), 0, 0);
        ctx.restore();
      });
      ctx.save();
      ctx.translate(31, 234);
      ctx.rotate(-Math.PI / 2);
      ctx.textAlign = 'left';
      ctx.font = 'italic 40px ' + FONT;
      ctx.fillText('\u03b7', 0, 0);
      let w = ctx.measureText('\u03b7').width;
      ctx.font = '22px ' + FONT;
      ctx.fillText('B', w - 2, 17);
      w += ctx.measureText('B').width - 2;
      ctx.font = '15px ' + FONT;
      ctx.fillText('M', w, 21);
      ctx.restore();
    }
    const cx = (a.left + a.right) / 2;
    ctx.textAlign = 'left';
    let x0 = cx - 18;
    ctx.font = '30px ' + FONT;
    ctx.fillText('\u03be', x0, 517);
    x0 += ctx.measureText('\u03be').width + 1;
    ctx.font = '25px ' + FONT;
    ctx.fillText('\u039b', x0, 529);
    x0 += ctx.measureText('\u039b').width - 1;
    ctx.font = '17px ' + FONT;
    ctx.fillText('M', x0, 540);
    ctx.font = '29px ' + FONT;
    ctx.fillText(o.name, x.getPixelForValue(11.9), y.getPixelForValue(-10));
    ctx.font = 'italic 26px ' + FONT;
    o.notes.forEach(n => ctx.fillText(n.text, x.getPixelForValue(n.x), y.getPixelForValue(n.y)));
    ctx.restore();
  }
};

panelData.forEach((p, i) => {
  const datasets = [];
  if (p.square) datasets.push({data: pts(squareMark), pointStyle: 'rect', pointRadius: 6.5, backgroundColor: '#000', borderWidth: 0});
  datasets.push({data: pts(centerMark), pointStyle: 'triangle', pointRadius: 8, backgroundColor: '#000', borderWidth: 0});
  datasets.push({data: pts(refObjects), pointStyle: 'circle', pointRadius: 4.6, backgroundColor: 'rgba(0,0,0,0)', borderColor: '#000', borderWidth: 1.2});
  datasets.push({data: p.points, pointStyle: 'circle', pointRadius: 2.4, backgroundColor: p.color, borderWidth: 0});
  new Chart(document.getElementById('c' + (i + 1)), {
    type: 'scatter',
    data: {datasets},
    options: {
      responsive: false,
      animation: false,
      devicePixelRatio: 1,
      events: [],
      layout: {padding: {left: p.left, right: 1306 - p.right, top: 12, bottom: 130}},
      scales: {
        x: {type: 'linear', reverse: true, min: xLimits[0], max: xLimits[1], display: false},
        y: {type: 'linear', min: yLimits[0], max: yLimits[1], display: false}
      },
      plugins: {
        legend: {display: false},
        tooltip: {enabled: false},
        deco: {name: p.name, yLabels: p.yLabels, notes: p.notes}
      }
    },
    plugins: [decoPlugin]
  });
});
</script>
</body></html>
